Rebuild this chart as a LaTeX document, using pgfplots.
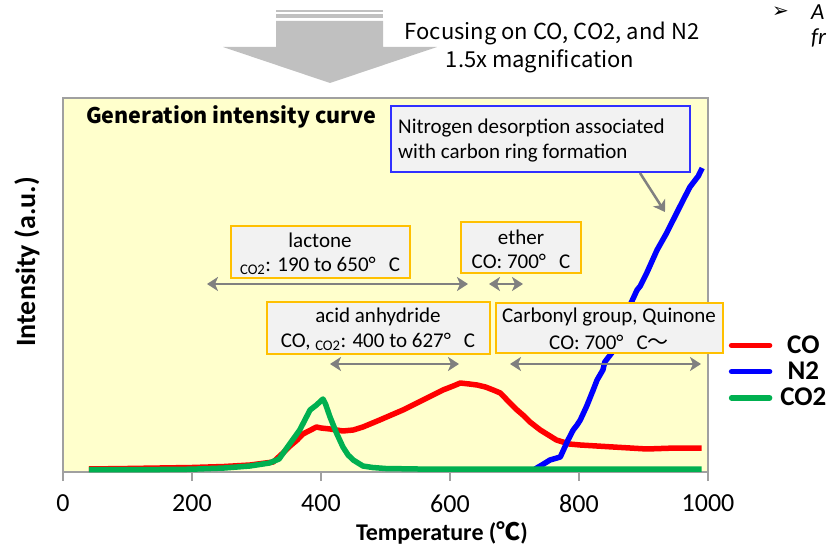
\documentclass[border=0pt]{standalone}
\usepackage{fontspec}
\setmainfont{Carlito}
\newfontfamily\jpfont{Noto Sans CJK JP}
\newfontfamily\djv{DejaVu Sans}
\usepackage{pgfplots}
\pgfplotsset{compat=1.18}
\usetikzlibrary{arrows.meta}
\definecolor{plotbg}{HTML}{FFFFCC}
\definecolor{framegray}{HTML}{A0A0A0}
\definecolor{boxfill}{HTML}{F2F2F2}
\definecolor{boxedge}{HTML}{FFC000}
\definecolor{arrgray}{HTML}{808080}
\definecolor{bigarrow}{HTML}{C0C0C0}
\definecolor{cored}{HTML}{FF0000}
\definecolor{nblue}{HTML}{0000FF}
\definecolor{cogreen}{HTML}{00B050}
\definecolor{nbox}{HTML}{3030FF}
\newcommand\fs[1]{\fontsize{#1}{#1}\selectfont}
\begin{document}
\begin{tikzpicture}[x=1pt,y=1pt,
  abox/.style={draw=boxedge, fill=boxfill, line width=1.5pt},
  arr/.style={draw=arrgray, line width=2.5pt, {Stealth[length=11pt,width=14pt,inset=3pt]}-{Stealth[length=11pt,width=14pt,inset=3pt]}},
  btxt/.style={font=\fs{21}, inner sep=0pt}]
\useasboundingbox (0,0) rectangle (828,-545);
% big arrow
\fill[bigarrow] (276,-21) -- (383,-21) -- (383,-47) -- (437,-47) -- (330,-83) -- (223,-47) -- (276,-47) -- cycle;
\fill[bigarrow] (276,-10) rectangle (383,-12.5);
\fill[bigarrow] (276,-14.5) rectangle (383,-18);
\node[font=\jpfont\fs{22}, inner sep=0pt] at (552,-33) {Focusing on CO, CO2, and N2};
\node[font=\jpfont\fs{22}, inner sep=0pt] at (540,-61) {1.5x magnification};
\node[anchor=west, font=\djv\fs{20}, inner sep=0pt] at (772,-12) {➢};
\node[anchor=west, font=\itshape\fs{23}, inner sep=0pt] at (811,-12) {A};
\node[anchor=west, font=\itshape\fs{23}, inner sep=0pt] at (811,-38) {fr};

\begin{axis}[
  at={(63pt,-472pt)}, anchor=south west,
  scale only axis, width=645pt, height=374pt,
  xmin=0, xmax=1000, ymin=0, ymax=374,
  xtick={0,200,400,600,800,1000}, ytick=\empty,
  axis background/.style={fill=plotbg},
  axis line style={draw=framegray, line width=1.5pt},
  tick style={draw=framegray, line width=1.5pt},
  tick align=outside, major tick length=9pt,
  xtick pos=lower,
  xticklabel style={font=\fs{26}, yshift=-10pt},
  /pgf/number format/assume math mode=true,
  /pgf/number format/1000 sep={},
  legend style={at={(rel axis cs:1.032,0.37)}, anchor=north west, draw=none, fill=none,
    font=\bfseries\fs{27}, row sep=3pt, inner sep=0pt,
    /tikz/every odd column/.append style={column sep=6pt}},
  legend image code/.code={\draw[#1, line cap=round] (0pt,0pt) -- (38pt,0pt);},
]
\addplot[cored, line width=5.5pt, line join=round] coordinates {
(40,3) (100,3.5) (150,4) (200,4.5) (250,5.5) (290,7) (326,10) (341,19) (352,26) (363,32)
(372,38) (378,40) (393,45) (400,44) (414,43) (434,41) (450,42) (465,45) (491,52) (527,62)
(558,72) (589,82) (605,86) (616,89) (630,88) (642,87) (655,85) (667,82) (678,79) (693,69)
(704,62) (713,57) (724,50) (740,42) (765,32) (785,28) (802,27) (853,25) (905,23) (950,24) (990,24)};
\addlegendentry{CO}
\addplot[nblue, line width=5.5pt, line join=round] coordinates {
(732,3) (745,8) (755,12) (771,15) (783,32) (791,42) (797,47) (802,52) (812,66) (822,82)
(828,92) (837,102) (840,110) (853,121) (870,150) (880,168) (890,182) (895,186) (905,199)
(921,222) (935,238) (946,252) (960,270) (972,285) (985,296) (991,304)};
\addlegendentry{N2}
\addplot[cogreen, line width=5.5pt, line join=round] coordinates {
(40,2.5) (100,2.5) (150,2.5) (200,2.8) (250,4) (290,6) (320,9) (335,13) (347,24) (357,33)
(367,42) (375,52) (383,62) (393,67) (398,70) (403,73) (407,68) (414,55) (424,39) (434,25)
(442,17) (450,12) (465,6) (480,4.5) (500,3.5) (550,3) (600,3) (700,3) (800,3) (900,3) (990,3)};
\addlegendentry{CO2}
\end{axis}

\node[font=\bfseries\fs{24}, inner sep=0pt] at (442,-533) {Temperature ({\jpfont ℃})};
\node[rotate=90, font=\bfseries\fs{28}] at (27,-262) {Intensity (a.u.)};

\node[anchor=west, font=\jpfont\bfseries\fs{21.5}, inner sep=0pt] at (86,-117) {Generation intensity curve};

% N2 box
\draw[draw=nbox, fill=boxfill, line width=1.5pt] (391,-106) rectangle (690,-172);
\node[anchor=west, btxt] at (398,-128) {Nitrogen desorption associated};
\node[anchor=west, btxt] at (398,-153) {with carbon ring formation};
\draw[draw=arrgray, line width=2.5pt, -{Stealth[length=11pt,width=14pt,inset=3pt]}] (640,-173) -- (665,-212);

% lactone
\draw[abox] (231,-226) rectangle (410,-278);
\node[btxt] at (320,-240) {lactone};
\node[btxt] at (320,-266) {\textsubscript{CO2}: 190 to 650°\ \ \,C};
\draw[arr] (207,-284) -- (468,-284);
% ether
\draw[abox] (461,-222) rectangle (581,-273);
\node[btxt] at (521,-237) {ether};
\node[btxt] at (521,-261) {CO: 700°\ \ \,C};
\draw[arr] (489,-284) -- (523,-284);
% acid anhydride
\draw[abox] (267,-302) rectangle (490,-354);
\node[btxt] at (378,-317) {acid anhydride};
\node[btxt] at (378,-342) {CO, \textsubscript{CO2}: 400 to 627°\ \ \,C};
\draw[arr] (330,-364) -- (459,-364);
% carbonyl
\draw[abox] (496,-303) rectangle (723,-353);
\node[btxt] at (609,-317) {Carbonyl group, Quinone};
\node[btxt] at (609,-342) {CO: 700°\ \ \,C{\jpfont 〜}};
\draw[arr] (510,-364) -- (701,-364);
\end{tikzpicture}
\end{document}
